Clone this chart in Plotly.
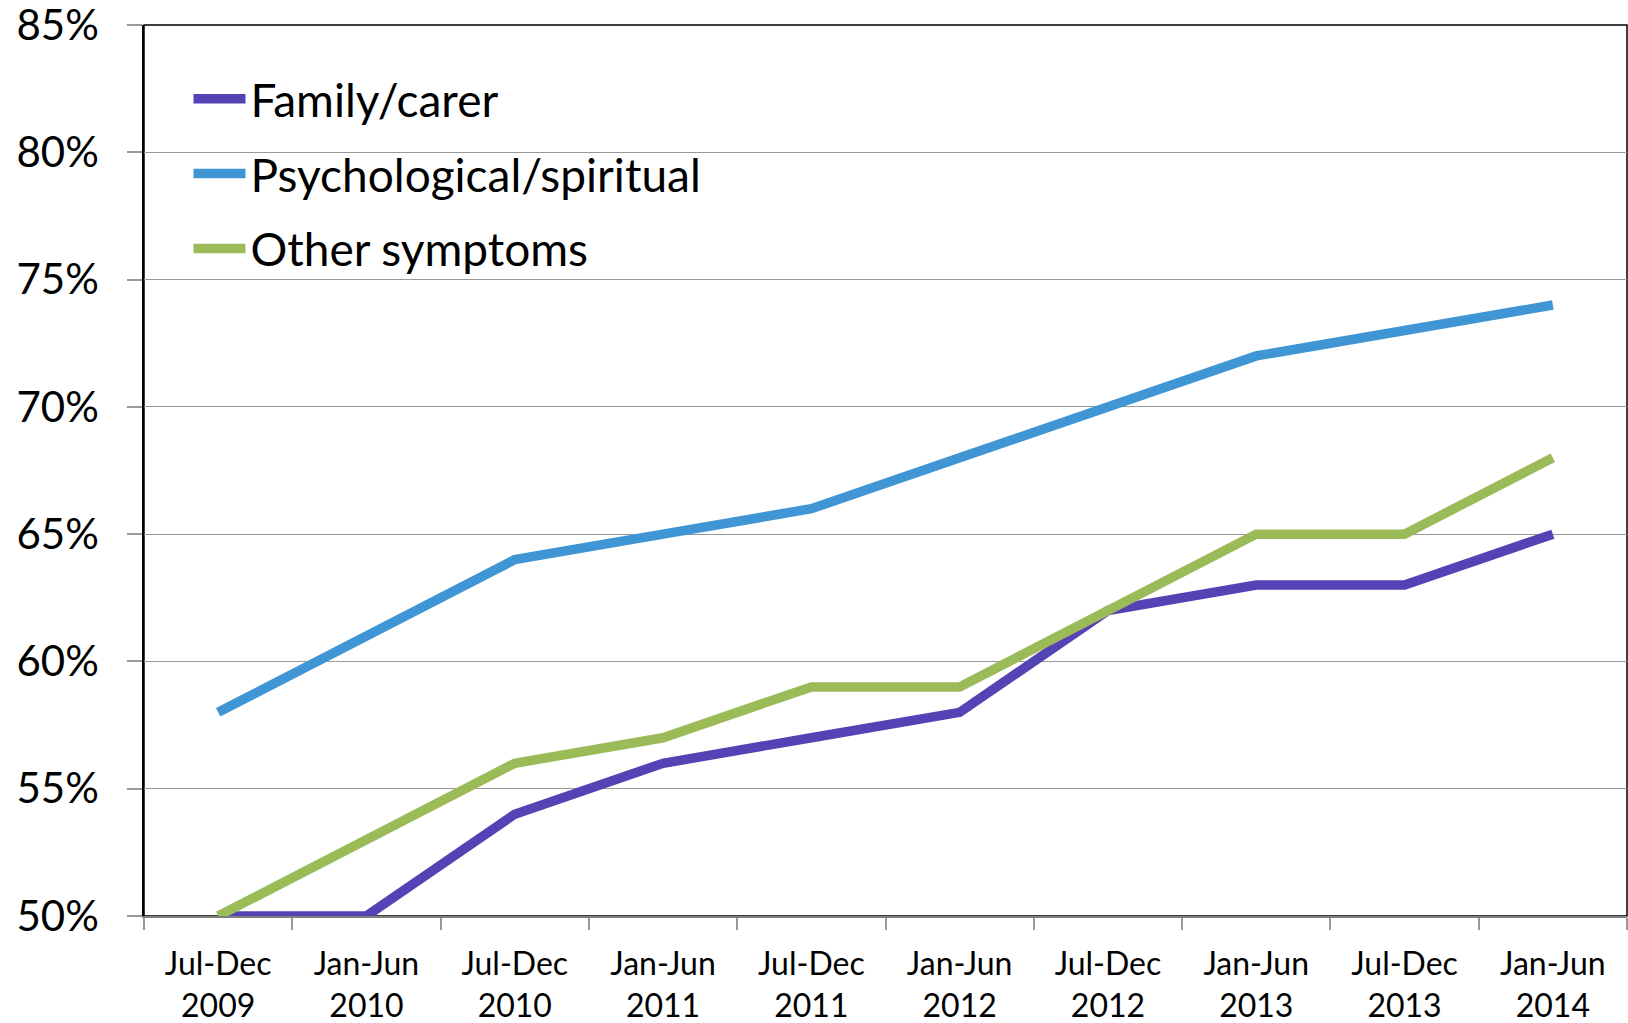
import plotly.graph_objects as go

categories = ["Jul-Dec<br>2009", "Jan-Jun<br>2010", "Jul-Dec<br>2010", "Jan-Jun<br>2011",
              "Jul-Dec<br>2011", "Jan-Jun<br>2012", "Jul-Dec<br>2012", "Jan-Jun<br>2013",
              "Jul-Dec<br>2013", "Jan-Jun<br>2014"]
family_carer = [0.50, 0.50, 0.54, 0.56, 0.57, 0.58, 0.62, 0.63, 0.63, 0.65]
psych_spiritual = [0.58, 0.61, 0.64, 0.65, 0.66, 0.68, 0.70, 0.72, 0.73, 0.74]
other_symptoms = [0.50, 0.53, 0.56, 0.57, 0.59, 0.59, 0.62, 0.65, 0.65, 0.68]
y_ticks = [0.50, 0.55, 0.60, 0.65, 0.70, 0.75, 0.80, 0.85]

FONT = "Lato"

fig = go.Figure()
series = [
    ("Family/carer", family_carer, "#5343B5"),
    ("Psychological/spiritual", psych_spiritual, "#4096D4"),
    ("Other symptoms", other_symptoms, "#9BBB59"),
]
for name, vals, col in series:
    fig.add_trace(go.Scatter(x=categories, y=vals, name=name, mode="lines",
                             legendgroup=name,
                             line=dict(color=col, width=9.5), cliponaxis=False))

fig.update_layout(
    width=1628, height=1023,
    margin=dict(l=144, r=1, t=25, b=107, autoexpand=False),
    paper_bgcolor="white", plot_bgcolor="white",
    font=dict(family=FONT, color="black"),
    showlegend=True,
    legend=dict(x=0.03, y=0.958, xanchor="left", yanchor="top",
                font=dict(size=46, family=FONT), bgcolor="rgba(0,0,0,0)",
                tracegroupgap=12, itemwidth=52),
    xaxis=dict(type="category", range=[-0.5, 9.5], tickson="boundaries",
               ticks="outside", ticklen=12, tickcolor="#999999", tickwidth=1.5,
               showgrid=False, showline=True, linecolor="#808080", linewidth=2,
               tickfont=dict(size=32, family=FONT), ticklabelstandoff=19,
               automargin=False, zeroline=False),
    yaxis=dict(range=[0.5, 0.85], tickvals=y_ticks, tickformat=".0%",
               ticks="outside", ticklen=15, tickcolor="#999999", tickwidth=1.5,
               showgrid=True, gridcolor="#999999", gridwidth=1.2,
               showline=True, linecolor="black", linewidth=1.5,
               tickfont=dict(size=42, family=FONT), ticklabelstandoff=20,
               ticklabeloverflow="allow",
               automargin=False, zeroline=False),
)
# plot area border (top and right)
fig.add_shape(type="rect", xref="paper", yref="paper", x0=0, y0=0, x1=1, y1=1,
              line=dict(color="black", width=1.5), layer="below")

fig.write_html("out.html", config={"displayModeBar": False},
               post_script="document.body.style.margin='0';document.body.style.overflow='hidden';")
